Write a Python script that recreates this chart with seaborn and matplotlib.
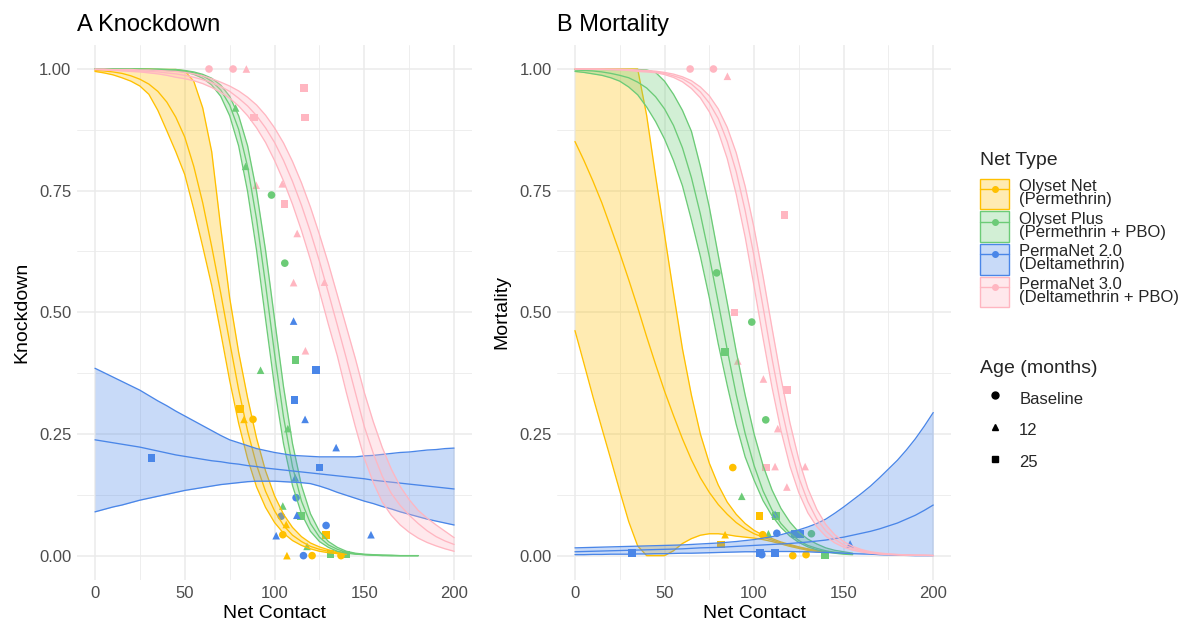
import numpy as np
import pandas as pd
import matplotlib
matplotlib.use("Agg")
import matplotlib.pyplot as plt
import seaborn as sns
from matplotlib.patches import Patch
from matplotlib.lines import Line2D
from matplotlib.ticker import MultipleLocator, FixedLocator
from matplotlib.colors import to_rgba

# ---------------- categories ----------------
NETS = ["Olyset Net", "Olyset Plus", "PermaNet 2.0", "PermaNet 3.0"]
NET_LABELS = ["Olyset Net\n(Permethrin)", "Olyset Plus\n(Permethrin + PBO)",
              "PermaNet 2.0\n(Deltamethrin)", "PermaNet 3.0\n(Deltamethrin + PBO)"]
AGES = ["Baseline", "12", "25"]

X_TICKS = [0, 50, 100, 150, 200]
Y_TICKS = [0.0, 0.25, 0.5, 0.75, 1.0]
Y_TICK_LABELS = ["0.00", "0.25", "0.50", "0.75", "1.00"]

# net contact values at which the fitted curves were read
X_GRID = [0, 5, 10, 15, 20, 25, 30, 35, 40, 45, 50, 55, 60, 65, 70, 75, 80, 85, 90, 95,
          100, 105, 110, 115, 120, 125, 130, 135, 140, 145, 150, 155, 160, 165, 170, 175,
          180, 185, 190, 195, 200]

# ---------------- knockdown fitted curves ----------------
KD_OLYSET_NET_MEAN = [0.997, 0.996, 0.994, 0.991, 0.986, 0.979, 0.969, 0.954, 0.932, 0.901,
                      0.860, 0.800, 0.725, 0.635, 0.540, 0.439, 0.341, 0.256, 0.186, 0.132,
                      0.092, 0.062, 0.042, 0.029, 0.019, 0.013, 0.009, 0.006, 0.004]
KD_OLYSET_NET_UPPER = [1.0, 1.0, 1.0, 1.0, 1.0, 1.0, 1.0, 0.999, 0.999, 0.999,
                       0.996, 0.975, 0.92, 0.83, 0.675, 0.53, 0.418, 0.324, 0.241, 0.174,
                       0.123, 0.085, 0.058, 0.039, 0.026, 0.018, 0.012, 0.008, 0.005]
KD_OLYSET_NET_LOWER = [0.995, 0.992, 0.988, 0.982, 0.975, 0.965, 0.948, 0.915, 0.873, 0.83,
                       0.783, 0.712, 0.635, 0.555, 0.459, 0.36, 0.272, 0.199, 0.141, 0.099,
                       0.068, 0.046, 0.031, 0.021, 0.014, 0.009, 0.006, 0.004, 0.003]

KD_OLYSET_PLUS_MEAN = [1.0, 1.0, 1.0, 1.0, 1.0, 1.0, 0.999, 0.999, 0.999, 0.998,
                       0.996, 0.992, 0.986, 0.975, 0.957, 0.926, 0.876, 0.799, 0.691, 0.557,
                       0.415, 0.285, 0.183, 0.112, 0.066, 0.038, 0.022, 0.013, 0.007, 0.004,
                       0.002, 0.001, 0.001, 0.0, 0.0, 0.0, 0.0]
KD_OLYSET_PLUS_UPPER = [1.0, 1.0, 1.0, 1.0, 1.0, 1.0, 1.0, 1.0, 0.999, 0.999,
                        0.997, 0.994, 0.989, 0.981, 0.967, 0.944, 0.904, 0.842, 0.748, 0.627,
                        0.486, 0.347, 0.23, 0.144, 0.086, 0.05, 0.029, 0.017, 0.009, 0.005,
                        0.003, 0.002, 0.001, 0.001, 0.0, 0.0, 0.0]
KD_OLYSET_PLUS_LOWER = [1.0, 1.0, 1.0, 1.0, 0.999, 0.999, 0.999, 0.998, 0.997, 0.996,
                        0.994, 0.989, 0.981, 0.967, 0.944, 0.904, 0.842, 0.748, 0.627, 0.486,
                        0.347, 0.23, 0.144, 0.086, 0.05, 0.029, 0.017, 0.009, 0.005, 0.003,
                        0.002, 0.001, 0.0, 0.0, 0.0, 0.0, 0.0]

KD_PERMANET2_MEAN = [0.238, 0.235, 0.232, 0.229, 0.226, 0.223, 0.219, 0.215, 0.211, 0.207,
                     0.204, 0.201, 0.198, 0.195, 0.193, 0.19, 0.188, 0.185, 0.183, 0.18,
                     0.178, 0.176, 0.174, 0.172, 0.17, 0.168, 0.166, 0.164, 0.162, 0.16,
                     0.158, 0.155, 0.153, 0.151, 0.149, 0.147, 0.145, 0.143, 0.141, 0.139,
                     0.137]
KD_PERMANET2_UPPER = [0.385, 0.376, 0.367, 0.358, 0.349, 0.34, 0.329, 0.318, 0.308, 0.297,
                      0.287, 0.277, 0.267, 0.257, 0.247, 0.238, 0.232, 0.226, 0.22, 0.216,
                      0.212, 0.209, 0.206, 0.205, 0.204, 0.203, 0.203, 0.203, 0.203, 0.203,
                      0.205, 0.206, 0.208, 0.21, 0.212, 0.213, 0.215, 0.217, 0.218, 0.22,
                      0.221]
KD_PERMANET2_LOWER = [0.09, 0.095, 0.1, 0.104, 0.109, 0.114, 0.118, 0.122, 0.126, 0.13,
                      0.134, 0.137, 0.14, 0.143, 0.146, 0.148, 0.15, 0.152, 0.153, 0.153,
                      0.153, 0.152, 0.151, 0.15, 0.148, 0.143, 0.137, 0.13, 0.124, 0.118,
                      0.112, 0.107, 0.101, 0.096, 0.09, 0.085, 0.08, 0.075, 0.071, 0.067,
                      0.063]

KD_PERMANET3_MEAN = [0.999, 0.999, 0.998, 0.998, 0.997, 0.996, 0.995, 0.994, 0.992, 0.99,
                     0.987, 0.983, 0.978, 0.972, 0.964, 0.954, 0.94, 0.924, 0.904, 0.879,
                     0.849, 0.812, 0.769, 0.72, 0.665, 0.605, 0.54, 0.473, 0.405, 0.335,
                     0.265, 0.21, 0.163, 0.128, 0.103, 0.083, 0.066, 0.051, 0.039, 0.03,
                     0.023]
KD_PERMANET3_UPPER = [1.0, 1.0, 0.999, 0.999, 0.999, 0.998, 0.998, 0.997, 0.996, 0.995,
                      0.993, 0.99, 0.986, 0.98, 0.973, 0.965, 0.955, 0.942, 0.926, 0.905,
                      0.879, 0.848, 0.81, 0.766, 0.716, 0.66, 0.6, 0.535, 0.47, 0.405,
                      0.335, 0.275, 0.222, 0.178, 0.142, 0.115, 0.093, 0.077, 0.063, 0.05,
                      0.037]
KD_PERMANET3_LOWER = [0.999, 0.998, 0.997, 0.996, 0.995, 0.994, 0.992, 0.99, 0.987, 0.983,
                      0.98, 0.976, 0.97, 0.962, 0.952, 0.94, 0.924, 0.904, 0.879, 0.849,
                      0.812, 0.77, 0.722, 0.668, 0.608, 0.543, 0.475, 0.41, 0.335, 0.265,
                      0.2, 0.15, 0.11, 0.083, 0.063, 0.048, 0.036, 0.027, 0.02, 0.014,
                      0.009]

# ---------------- mortality fitted curves ----------------
MORT_OLYSET_NET_MEAN = [0.851, 0.812, 0.77, 0.725, 0.674, 0.622, 0.567, 0.51, 0.45, 0.393,
                        0.338, 0.288, 0.24, 0.197, 0.16, 0.13, 0.105, 0.085, 0.068, 0.055,
                        0.045, 0.038, 0.032, 0.026, 0.021, 0.017, 0.013, 0.01, 0.008]
MORT_OLYSET_NET_UPPER = [1.0, 1.0, 1.0, 1.0, 1.0, 1.0, 1.0, 1.0, 0.905, 0.78,
                         0.66, 0.54, 0.425, 0.33, 0.25, 0.19, 0.145, 0.11, 0.085, 0.066,
                         0.052, 0.042, 0.035, 0.028, 0.023, 0.018, 0.014, 0.011, 0.008]
MORT_OLYSET_NET_LOWER = [0.4625, 0.395, 0.327, 0.262, 0.198, 0.133, 0.07, 0.02, 0.0, 0.0,
                         0.0, 0.01, 0.025, 0.035, 0.042, 0.045, 0.045, 0.043, 0.04, 0.038,
                         0.036, 0.033, 0.029, 0.024, 0.019, 0.015, 0.011, 0.009, 0.007]

MORT_OLYSET_PLUS_MEAN = [0.998, 0.997, 0.996, 0.994, 0.991, 0.987, 0.982, 0.973, 0.961, 0.943,
                         0.918, 0.884, 0.838, 0.777, 0.702, 0.615, 0.52, 0.423, 0.331, 0.251,
                         0.185, 0.133, 0.094, 0.066, 0.046, 0.031, 0.021, 0.015, 0.01, 0.007,
                         0.005, 0.003]
MORT_OLYSET_PLUS_UPPER = [0.999, 0.999, 0.999, 0.999, 0.999, 0.999, 0.999, 0.999, 0.998, 0.993,
                          0.975, 0.948, 0.915, 0.872, 0.80, 0.716, 0.617, 0.52, 0.42, 0.33,
                          0.25, 0.185, 0.135, 0.097, 0.069, 0.048, 0.034, 0.024, 0.016, 0.011,
                          0.008, 0.005]
MORT_OLYSET_PLUS_LOWER = [0.995, 0.993, 0.99, 0.987, 0.982, 0.975, 0.963, 0.947, 0.922, 0.892,
                          0.856, 0.812, 0.76, 0.69, 0.615, 0.53, 0.435, 0.35, 0.27, 0.203,
                          0.155, 0.113, 0.082, 0.058, 0.04, 0.027, 0.018, 0.012, 0.008, 0.005,
                          0.003, 0.002]

MORT_PERMANET2_MEAN = [0.008, 0.0085, 0.009, 0.0095, 0.01, 0.0105, 0.011, 0.0115, 0.012, 0.0125,
                       0.013, 0.0135, 0.014, 0.015, 0.016, 0.0165, 0.017, 0.018, 0.019, 0.02,
                       0.021, 0.022, 0.023, 0.024, 0.025, 0.0265, 0.028, 0.03, 0.032, 0.035,
                       0.038, 0.042, 0.046, 0.05, 0.055, 0.061, 0.067, 0.075, 0.083, 0.093,
                       0.104]
MORT_PERMANET2_UPPER = [0.016, 0.0165, 0.017, 0.0175, 0.018, 0.0185, 0.019, 0.0195, 0.02, 0.0205,
                        0.021, 0.0215, 0.022, 0.023, 0.024, 0.025, 0.026, 0.0275, 0.029, 0.031,
                        0.033, 0.036, 0.039, 0.043, 0.048, 0.053, 0.059, 0.066, 0.075, 0.087,
                        0.1, 0.114, 0.128, 0.143, 0.16, 0.178, 0.196, 0.217, 0.24, 0.266,
                        0.294]
MORT_PERMANET2_LOWER = [0.002, 0.002, 0.0025, 0.0025, 0.003, 0.003, 0.003, 0.0035, 0.0035, 0.004,
                        0.004, 0.0045, 0.005, 0.005, 0.0055, 0.006, 0.0065, 0.007, 0.0075, 0.008,
                        0.008, 0.0085, 0.0085, 0.0085, 0.0085, 0.008, 0.008, 0.007, 0.0065, 0.006,
                        0.005, 0.004, 0.0035, 0.003, 0.002, 0.0015, 0.001, 0.0005, 0.0, 0.0,
                        0.0]

MORT_PERMANET3_MEAN = [1.0, 1.0, 1.0, 0.9995, 0.9993, 0.999, 0.998, 0.997, 0.996, 0.994,
                       0.991, 0.986, 0.98, 0.969, 0.953, 0.93, 0.898, 0.851, 0.789, 0.709,
                       0.615, 0.511, 0.405, 0.308, 0.226, 0.16, 0.111, 0.075, 0.051, 0.034,
                       0.022, 0.015, 0.01, 0.006, 0.004, 0.003, 0.002, 0.001, 0.001, 0.001,
                       0.0]
MORT_PERMANET3_UPPER = [1.0, 1.0, 1.0, 1.0, 0.9997, 0.9995, 0.999, 0.998, 0.997, 0.9955,
                        0.993, 0.9895, 0.984, 0.976, 0.963, 0.945, 0.918, 0.88, 0.828, 0.759,
                        0.673, 0.574, 0.468, 0.365, 0.273, 0.197, 0.138, 0.095, 0.064, 0.043,
                        0.029, 0.019, 0.0125, 0.008, 0.0055, 0.0036, 0.0024, 0.0016, 0.001, 0.0007,
                        0.0005]
MORT_PERMANET3_LOWER = [1.0, 1.0, 0.9995, 0.999, 0.9985, 0.998, 0.997, 0.995, 0.994, 0.9925,
                        0.9886, 0.9827, 0.9737, 0.96, 0.9407, 0.912, 0.871, 0.816, 0.743, 0.655,
                        0.553, 0.447, 0.346, 0.257, 0.184, 0.129, 0.088, 0.0595, 0.0397, 0.0263,
                        0.0173, 0.0114, 0.0075, 0.0049, 0.0032, 0.0021, 0.0014, 0.0009, 0.0006, 0.0004,
                        0.0003]

# ---------------- observed points: knockdown ----------------
KD_PT_NET = (["PermaNet 3.0"] * 13 + ["Olyset Plus"] * 12 + ["PermaNet 2.0"] * 15 + ["Olyset Net"] * 9)
KD_PT_AGE = ["Baseline", "Baseline", "12", "25", "25", "25", "12", "12", "25", "12", "12", "12", "12",
             "12", "12", "Baseline", "Baseline", "12", "25", "12", "12", "25", "12", "25", "25",
             "12", "25", "25", "12", "12", "25", "25", "12", "Baseline", "12", "Baseline", "12", "Baseline", "12", "Baseline",
             "25", "12", "Baseline", "12", "Baseline", "12", "Baseline", "25", "Baseline"]
KD_PT_X = [63.5, 76.9, 84.3, 116.3, 116.9, 88.5, 89.8, 104.3, 105.6, 112.6, 110.6, 127.8, 117.2,
           78.3, 83.9, 98.3, 105.7, 92.2, 111.7, 107.4, 104.6, 114.8, 118.1, 131.1, 139.8,
           110.6, 123.1, 111.1, 117.0, 134.3, 125.0, 31.5, 111.5, 112.0, 112.4, 128.7, 100.9, 116.1, 153.7, 103.7,
           80.9, 83.0, 88.0, 106.5, 104.6, 106.9, 120.9, 128.7, 137.0]
KD_PT_Y = [1.0, 1.0, 1.0, 0.961, 0.90, 0.90, 0.761, 0.764, 0.722, 0.662, 0.561, 0.562, 0.421,
           0.92, 0.80, 0.741, 0.601, 0.381, 0.402, 0.261, 0.102, 0.081, 0.019, 0.004, 0.002,
           0.482, 0.381, 0.32, 0.28, 0.222, 0.181, 0.201, 0.16, 0.119, 0.083, 0.062, 0.041, 0.0, 0.043, 0.081,
           0.301, 0.28, 0.28, 0.064, 0.043, 0.0, 0.0, 0.043, 0.0]

# ---------------- observed points: mortality ----------------
MORT_PT_NET = (["PermaNet 3.0"] * 13 + ["Olyset Plus"] * 9 + ["Olyset Net"] * 7 + ["PermaNet 2.0"] * 9)
MORT_PT_AGE = ["Baseline", "Baseline", "12", "25", "25", "12", "12", "25", "12", "25", "12", "12", "12",
               "Baseline", "25", "Baseline", "Baseline", "12", "25", "12", "Baseline", "25",
               "Baseline", "25", "12", "25", "Baseline", "Baseline", "Baseline",
               "25", "25", "Baseline", "25", "12", "Baseline", "25", "25", "12"]
MORT_PT_X = [64.3, 77.3, 85.1, 117.0, 89.0, 90.9, 105.2, 118.3, 113.2, 106.7, 111.7, 128.5, 118.3,
             79.1, 83.8, 98.7, 106.5, 93.1, 112.3, 108.0, 132.0, 139.7,
             88.1, 103.0, 83.8, 81.4, 104.8, 121.6, 129.0,
             31.7, 103.4, 104.3, 111.7, 111.7, 112.7, 123.0, 125.7, 153.6]
MORT_PT_Y = [1.0, 1.0, 0.985, 0.70, 0.50, 0.40, 0.363, 0.34, 0.261, 0.181, 0.183, 0.183, 0.141,
             0.581, 0.419, 0.48, 0.279, 0.122, 0.081, 0.045, 0.045, 0.001,
             0.181, 0.081, 0.043, 0.023, 0.043, 0.0, 0.002,
             0.005, 0.005, 0.002, 0.006, 0.085, 0.046, 0.045, 0.045, 0.024]

KD_CURVES = {
    "Olyset Net": (KD_OLYSET_NET_MEAN, KD_OLYSET_NET_LOWER, KD_OLYSET_NET_UPPER),
    "Olyset Plus": (KD_OLYSET_PLUS_MEAN, KD_OLYSET_PLUS_LOWER, KD_OLYSET_PLUS_UPPER),
    "PermaNet 2.0": (KD_PERMANET2_MEAN, KD_PERMANET2_LOWER, KD_PERMANET2_UPPER),
    "PermaNet 3.0": (KD_PERMANET3_MEAN, KD_PERMANET3_LOWER, KD_PERMANET3_UPPER),
}
MORT_CURVES = {
    "Olyset Net": (MORT_OLYSET_NET_MEAN, MORT_OLYSET_NET_LOWER, MORT_OLYSET_NET_UPPER),
    "Olyset Plus": (MORT_OLYSET_PLUS_MEAN, MORT_OLYSET_PLUS_LOWER, MORT_OLYSET_PLUS_UPPER),
    "PermaNet 2.0": (MORT_PERMANET2_MEAN, MORT_PERMANET2_LOWER, MORT_PERMANET2_UPPER),
    "PermaNet 3.0": (MORT_PERMANET3_MEAN, MORT_PERMANET3_LOWER, MORT_PERMANET3_UPPER),
}

# ---------------- styles ----------------
COLORS = {"Olyset Net": "#FFC000", "Olyset Plus": "#6CCB77",
          "PermaNet 2.0": "#4A86E8", "PermaNet 3.0": "#FFB6C1"}
MARKERS = {"Baseline": "o", "12": "^", "25": "s"}
FILL_ALPHA = 0.3
GRID_COLOR = "#EBEBEB"
TICK_COLOR = "#4D4D4D"

sns.set_theme(style="white")
plt.rcParams["font.family"] = ["Liberation Sans", "DejaVu Sans"]


def curve_frame(curves):
    rows = []
    for net, (mean, lower, upper) in curves.items():
        for x, m, lo, up in zip(X_GRID, mean, lower, upper):
            rows.append({"net": net, "x": x, "mean": m, "lower": lo, "upper": up})
    return pd.DataFrame(rows)


def draw_panel(ax, curves, pt_net, pt_age, pt_x, pt_y, title, ylabel):
    pts = pd.DataFrame({"net": pt_net, "age": pt_age, "x": pt_x, "y": pt_y})
    sns.scatterplot(data=pts, x="x", y="y", hue="net", style="age",
                    hue_order=NETS, style_order=AGES, palette=COLORS, markers=MARKERS,
                    s=30, linewidth=0, legend=False, ax=ax, zorder=2)
    cf = curve_frame(curves)
    for i, net in enumerate(NETS):
        sub = cf[cf["net"] == net]
        ax.fill_between(sub["x"], sub["lower"], sub["upper"],
                        color=COLORS[net], alpha=FILL_ALPHA, linewidth=0, zorder=3 + i)
        for col in ["lower", "upper", "mean"]:
            sns.lineplot(data=sub, x="x", y=col, color=COLORS[net], linewidth=0.95,
                         estimator=None, sort=False, ax=ax, zorder=3.5 + i)
    ax.set_xlim(-10, 210)
    ax.set_ylim(-0.05, 1.05)
    ax.xaxis.set_major_locator(FixedLocator(X_TICKS))
    ax.yaxis.set_major_locator(FixedLocator(Y_TICKS))
    ax.set_yticklabels(Y_TICK_LABELS)
    ax.xaxis.set_minor_locator(MultipleLocator(25))
    ax.yaxis.set_minor_locator(MultipleLocator(0.125))
    ax.grid(which="major", color=GRID_COLOR, linewidth=1.1)
    ax.grid(which="minor", color=GRID_COLOR, linewidth=0.6)
    ax.set_axisbelow(True)
    ax.tick_params(which="both", length=0, labelsize=12, labelcolor=TICK_COLOR, pad=4)
    for s in ax.spines.values():
        s.set_visible(False)
    ax.set_xlabel("Net Contact", fontsize=14, color="black", labelpad=3)
    ax.set_ylabel(ylabel, fontsize=14, color="black", labelpad=6)
    ax.set_title(title, loc="left", fontsize=17, color="black", pad=10)


fig = plt.figure(figsize=(11.87, 6.30), dpi=100)
ax1 = fig.add_axes([0.0649, 0.0794, 0.3328, 0.8497])
ax2 = fig.add_axes([0.4693, 0.0794, 0.3320, 0.8497])

draw_panel(ax1, KD_CURVES, KD_PT_NET, KD_PT_AGE, KD_PT_X, KD_PT_Y, "A Knockdown", "Knockdown")
draw_panel(ax2, MORT_CURVES, MORT_PT_NET, MORT_PT_AGE, MORT_PT_X, MORT_PT_Y, "B Mortality", "Mortality")

# legends
net_handles = [(Patch(facecolor=to_rgba(COLORS[n], FILL_ALPHA), edgecolor=COLORS[n], linewidth=1.0),
                Line2D([], [], color=COLORS[n], linewidth=1.0, marker="o", markersize=4))
               for n in NETS]
leg1 = fig.legend(net_handles, NET_LABELS, loc="upper left",
                  bbox_to_anchor=(980 / 1187, 1 - 152 / 630), frameon=False,
                  title="Net Type", title_fontsize=14, fontsize=12,
                  handlelength=1.75, handleheight=2.45, handletextpad=0.6,
                  labelspacing=0.12, borderpad=0, borderaxespad=0, alignment="left")
for t in leg1.get_texts():
    t.set_linespacing(0.85)
leg1._legend_box.sep = 7

age_handles = [Line2D([], [], color="black", linestyle="none", marker=MARKERS[a], markersize=5)
               for a in AGES]
leg2 = fig.legend(age_handles, AGES, loc="upper left",
                  bbox_to_anchor=(980 / 1187, 1 - 360 / 630), frameon=False,
                  title="Age (months)", title_fontsize=14, fontsize=12,
                  handlelength=1.75, handleheight=1.6, handletextpad=0.6,
                  labelspacing=0.62, borderpad=0, borderaxespad=0, alignment="left")

fig.savefig("out.png", dpi=100, facecolor="white")
